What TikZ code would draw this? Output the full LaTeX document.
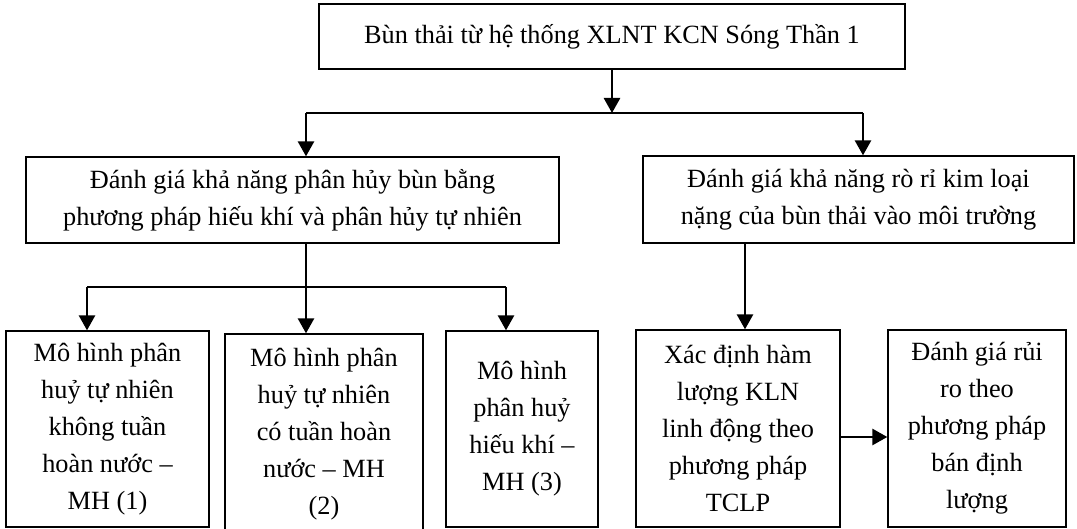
\documentclass[tikz,border=0pt]{standalone}
\usepackage{fontspec}
\setmainfont{Liberation Serif}
\usetikzlibrary{arrows.meta,positioning,calc}

\begin{document}
\begin{tikzpicture}[x=1pt, y=1pt, every node/.style={font=\fontsize{26.3}{37}\selectfont}, box/.style={draw, line width=1.3pt, align=center, inner sep=0pt}, arrow/.style={-{Triangle[length=15pt,width=16pt]}, line width=2.7pt}, link/.style={line width=1.3pt}]
\useasboundingbox (0,0) rectangle (1077,-529);
\node[box, minimum width=586pt, minimum height=65pt] (sludge) at (612,-36.5) {Bùn thải từ hệ thống XLNT KCN Sóng Thần 1};
\node[box, minimum width=533pt, minimum height=86pt] (decomp) at (292.5,-200) {Đánh giá khả năng phân hủy bùn bằng\\phương pháp hiếu khí và phân hủy tự nhiên};
\node[box, minimum width=431pt, minimum height=87pt] (leach) at (858.5,-199.5) {Đánh giá khả năng rò rỉ kim loại\\nặng của bùn thải vào môi trường};
\node[box, minimum width=203pt, minimum height=196pt] (mhone) at (107.5,-429) {Mô hình phân\\huỷ tự nhiên\\không tuần\\hoàn nước –\\MH (1)};
\node[box, minimum width=198pt, minimum height=200pt] (mhtwo) at (324,-434) {Mô hình phân\\huỷ tự nhiên\\có tuần hoàn\\nước – MH\\(2)};
\node[box, minimum width=152pt, minimum height=196pt] (mhthree) at (522,-429) {Mô hình\\phân huỷ\\hiếu khí –\\MH (3)};
\node[box, minimum width=204pt, minimum height=197pt] (tclp) at (738,-428.5) {Xác định hàm\\lượng KLN\\linh động theo\\phương pháp\\TCLP};
\node[box, minimum width=178pt, minimum height=197pt] (risk) at (977,-428.5) {Đánh giá rủi\\ro theo\\phương pháp\\bán định\\lượng};
% first fork
\coordinate (forkA) at (612,-113);
\coordinate (forkAL) at (306,-113);
\coordinate (forkAR) at (863,-113);
\draw[arrow] (sludge.south -| forkA) -- (forkA);
\draw[link] (forkAL) -- (forkAR);
\draw[arrow] (forkAL) -- (forkAL |- decomp.north);
\draw[arrow] (forkAR) -- (forkAR |- leach.north);
% second fork
\coordinate (forkB) at (306,-287);
\coordinate (forkBL) at (87,-287);
\coordinate (forkBR) at (506,-287);
\draw[line width=2.7pt] (decomp.south -| forkB) -- (forkB);
\draw[link] (forkBL) -- (forkBR);
\draw[arrow] (forkB) -- (forkB |- mhtwo.north);
\draw[arrow] (forkBL) -- (forkBL |- mhone.north);
\draw[arrow] (forkBR) -- (forkBR |- mhthree.north);
% right branch
\coordinate (dropR) at (745,-243);
\coordinate (sideR) at (0,-437);
\draw[arrow] (leach.south -| dropR) -- (dropR |- tclp.north);
\draw[arrow] (tclp.east |- sideR) -- (risk.west |- sideR);
\end{tikzpicture}
\end{document}
